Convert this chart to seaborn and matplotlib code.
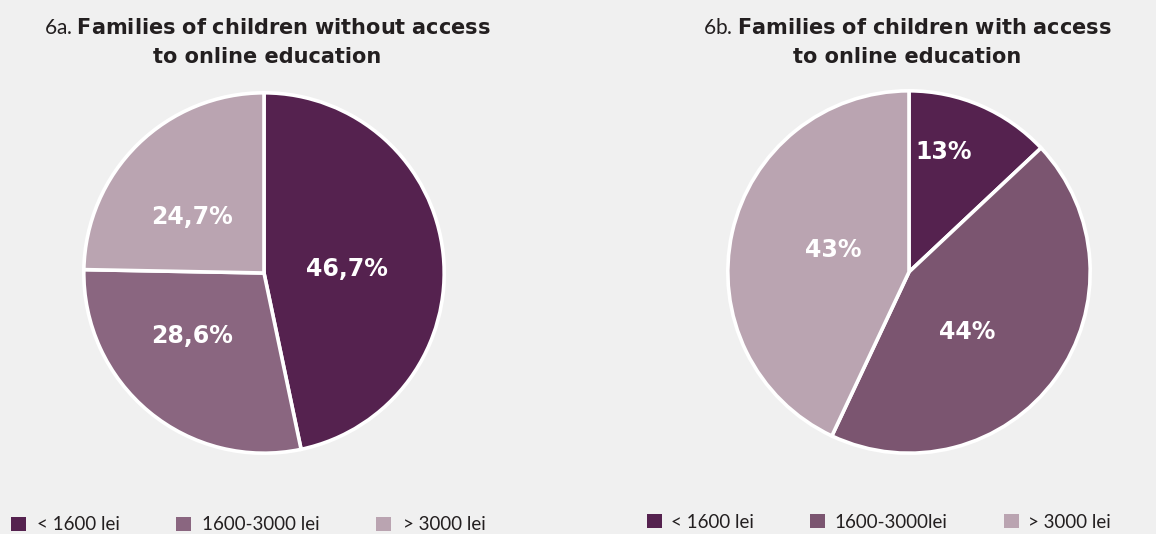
import matplotlib.pyplot as plt
import matplotlib
import seaborn as sns
from matplotlib.patches import Patch

sns.set_theme(style="white")
matplotlib.rcParams['font.family'] = ['Lato', 'DejaVu Sans']
matplotlib.rcParams['mathtext.fontset'] = 'dejavusans'

categories = ['< 1600 lei', '1600-3000 lei', '> 3000 lei']
categories_b = ['< 1600 lei', '1600-3000lei', '> 3000 lei']
values_a = [46.7, 28.6, 24.7]
values_b = [13, 44, 43]
labels_a = ['46,7%', '28,6%', '24,7%']
labels_b = ['13%', '44%', '43%']

colors_a = ['#55224F', '#8A6680', '#BAA4B1']
colors_b = ['#55224F', '#7B5570', '#BAA4B1']
bg = '#F0F0F0'
dark = '#231F20'

# label offsets inside each pie (radius units)
offs_a = [(0.46, 0.02), (-0.40, -0.35), (-0.40, 0.31)]
offs_b = [(0.19, 0.66), (0.32, -0.33), (-0.42, 0.12)]

W, H = 1156, 534
fig = plt.figure(figsize=[W / 100, H / 100], dpi=100)
fig.patch.set_facecolor(bg)


def pie_axes(cx, cy, r):
    return fig.add_axes([(cx - r) / W, (H - cy - r) / H, 2 * r / W, 2 * r / H])


def draw(ax, vals, cols, labs, offs):
    ax.set_facecolor(bg)
    ax.pie(vals, colors=cols, startangle=90, counterclock=False, radius=1,
           wedgeprops=dict(edgecolor='white', linewidth=2.6))
    for lab, (dx, dy) in zip(labs, offs):
        ax.text(dx, dy, lab, ha='center', va='center', color='white',
                fontsize=17, fontweight='bold', family='DejaVu Sans')
    ax.set_xlim(-1.01, 1.01)
    ax.set_ylim(-1.01, 1.01)
    ax.set_aspect('equal')
    ax.axis('off')


ax1 = pie_axes(264, 273, 182)
draw(ax1, values_a, colors_a, labels_a, offs_a)
ax2 = pie_axes(909, 272, 183)
draw(ax2, values_b, colors_b, labels_b, offs_b)

# titles
fig.text(267 / W, 1 - 28 / H, '6a. $\\bf{Families\\ of\\ children\\ without\\ access}$',
         ha='center', va='center', fontsize=15, color=dark)
fig.text(267 / W, 1 - 57 / H, 'to online education', ha='center', va='center',
         fontsize=15, color=dark, fontweight='bold', family='DejaVu Sans')
fig.text(907 / W, 1 - 28 / H, '6b. $\\bf{Families\\ of\\ children\\ with\\ access}$',
         ha='center', va='center', fontsize=15, color=dark)
fig.text(907 / W, 1 - 57 / H, 'to online education', ha='center', va='center',
         fontsize=15, color=dark, fontweight='bold', family='DejaVu Sans')

# legends
h_a = [Patch(facecolor=c, edgecolor='none') for c in colors_a]
h_b = [Patch(facecolor=c, edgecolor='none') for c in colors_b]
fig.legend(h_a, categories, loc='center left', bbox_to_anchor=(-6 / W, 1 - 525 / H),
           ncol=3, frameon=False, handlelength=0.8, handleheight=0.8,
           handletextpad=0.6, columnspacing=3.0, fontsize=13.5, labelcolor=dark)
fig.legend(h_b, categories_b, loc='center left', bbox_to_anchor=(630 / W, 1 - 522 / H),
           ncol=3, frameon=False, handlelength=0.8, handleheight=0.8,
           handletextpad=0.5, columnspacing=3.0, fontsize=13.5, labelcolor=dark)

plt.savefig('out.png', dpi=100, facecolor=bg)
plt.close(fig)
